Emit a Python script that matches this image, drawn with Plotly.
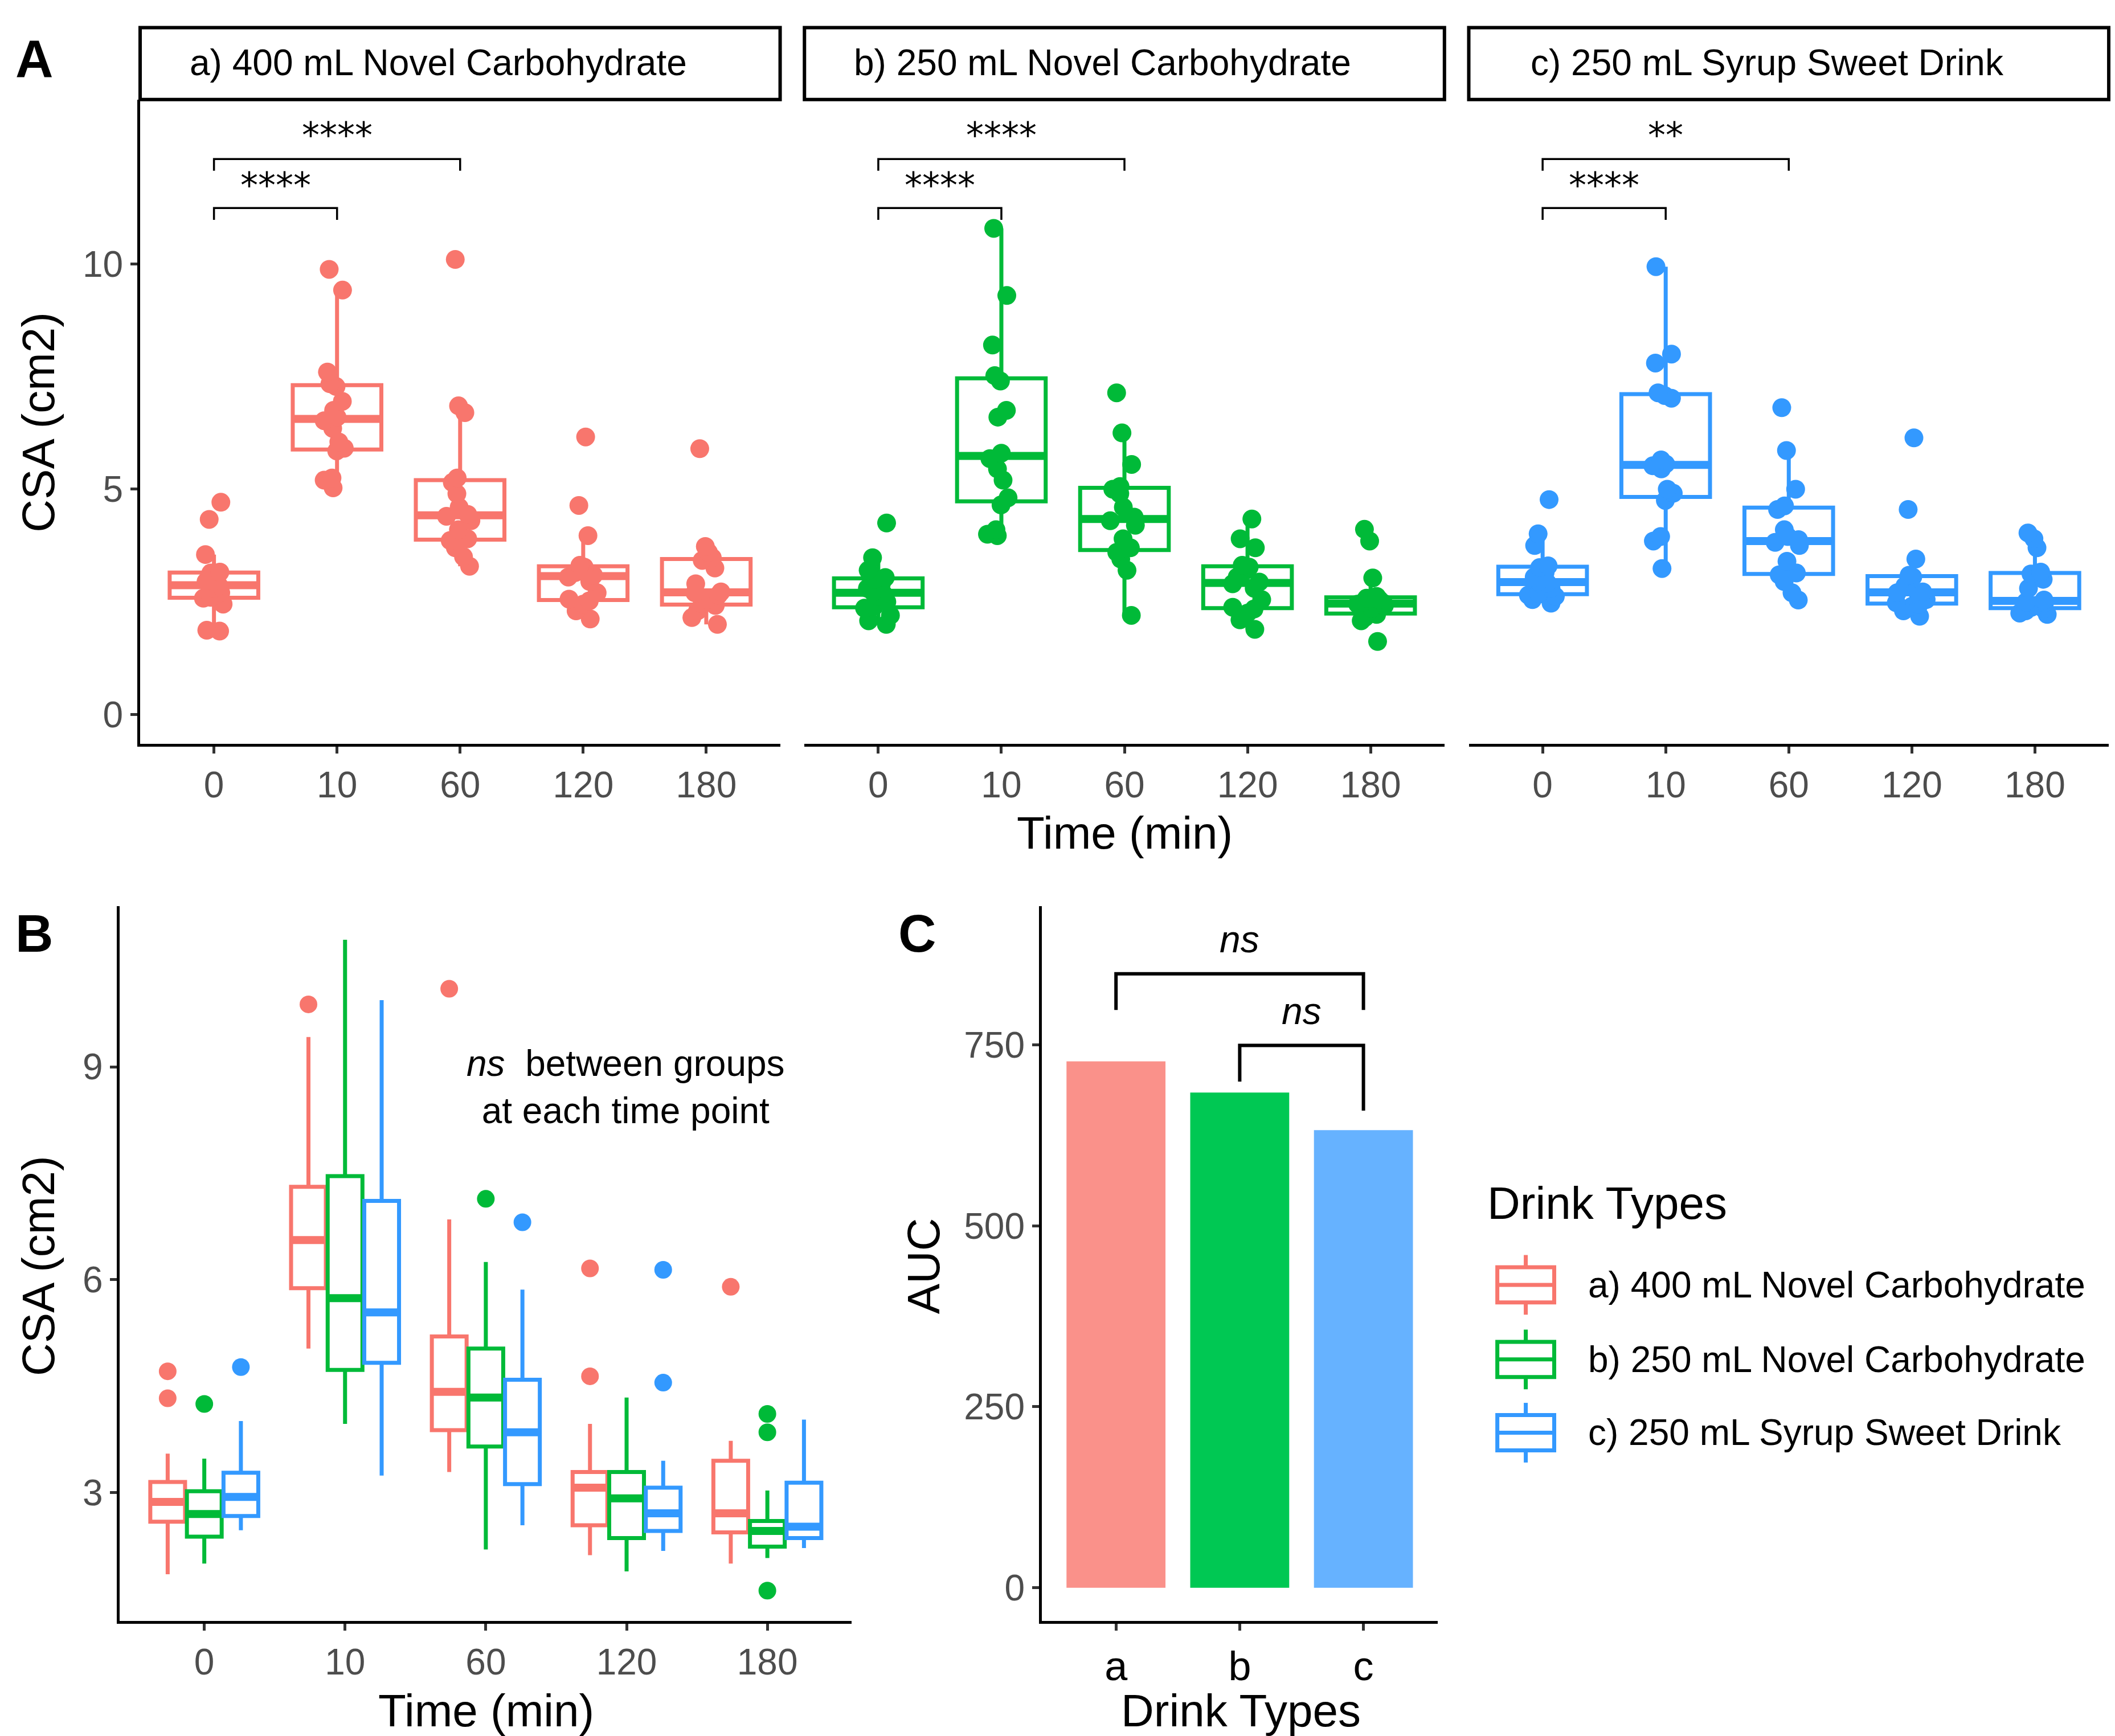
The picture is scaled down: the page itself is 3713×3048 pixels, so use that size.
import numpy as np
import plotly.graph_objects as go

times = ["0", "10", "60", "120", "180"]
drinks = ["a) 400 mL Novel Carbohydrate", "b) 250 mL Novel Carbohydrate",
          "c) 250 mL Syrup Sweet Drink"]
drink_codes = ["a", "b", "c"]
line_colors = ["#F8766D", "#00BA38", "#3399FF"]
bar_colors = ["#FA918A", "#00C853", "#66B2FF"]

# CSA (cm2) readings, drink a
a_t0 = [1.85, 1.87, 2.45, 2.58, 2.60, 2.70, 2.80, 2.86, 2.88, 2.95, 3.05, 3.14, 3.16, 3.55, 4.33, 4.71]
a_t10 = [5.03, 5.20, 5.25, 5.85, 5.91, 6.05, 6.35, 6.52, 6.60, 6.75, 6.95, 7.28, 7.34, 7.60, 9.42, 9.88]
a_t60 = [3.29, 3.50, 3.70, 3.86, 3.90, 4.10, 4.30, 4.40, 4.44, 4.60, 4.90, 5.15, 5.25, 6.70, 6.85, 10.1]
a_t120 = [2.12, 2.30, 2.45, 2.52, 2.56, 2.70, 2.95, 3.05, 3.09, 3.15, 3.22, 3.27, 3.31, 3.97, 4.64, 6.16]
a_t180 = [2.00, 2.15, 2.30, 2.42, 2.46, 2.55, 2.65, 2.70, 2.72, 2.90, 3.25, 3.42, 3.48, 3.60, 3.73, 5.90]

# drink b
b_t0 = [2.00, 2.08, 2.20, 2.36, 2.40, 2.50, 2.62, 2.68, 2.72, 2.80, 2.90, 3.00, 3.04, 3.20, 3.48, 4.25]
b_t10 = [3.97, 4.00, 4.10, 4.65, 4.81, 5.20, 5.45, 5.68, 5.80, 6.60, 6.75, 7.40, 7.52, 8.20, 9.30, 10.79]
b_t60 = [2.20, 3.20, 3.45, 3.60, 3.70, 3.90, 4.20, 4.30, 4.38, 4.60, 4.90, 5.00, 5.06, 5.55, 6.25, 7.14]
b_t120 = [1.89, 2.10, 2.25, 2.34, 2.38, 2.55, 2.80, 2.90, 2.94, 3.05, 3.20, 3.27, 3.31, 3.70, 3.90, 4.34]
b_t180 = [1.62, 2.08, 2.15, 2.22, 2.26, 2.35, 2.42, 2.45, 2.47, 2.50, 2.55, 2.58, 2.62, 3.03, 3.85, 4.11]

# drink c
c_t0 = [2.47, 2.55, 2.62, 2.65, 2.69, 2.80, 2.88, 2.92, 2.96, 3.05, 3.15, 3.26, 3.30, 3.75, 4.01, 4.77]
c_t10 = [3.24, 3.85, 3.95, 4.75, 4.91, 5.00, 5.45, 5.52, 5.56, 5.65, 7.02, 7.08, 7.14, 7.80, 8.00, 9.94]
c_t60 = [2.54, 2.70, 2.95, 3.10, 3.14, 3.40, 3.75, 3.82, 3.88, 3.95, 4.10, 4.55, 4.63, 5.00, 5.86, 6.81]
c_t120 = [2.18, 2.30, 2.40, 2.44, 2.48, 2.55, 2.65, 2.70, 2.72, 2.85, 3.00, 3.05, 3.09, 3.45, 4.55, 6.14]
c_t180 = [2.22, 2.25, 2.30, 2.34, 2.38, 2.42, 2.48, 2.50, 2.54, 2.80, 3.00, 3.12, 3.16, 3.70, 3.90, 4.03]

csa = [
    [a_t0, a_t10, a_t60, a_t120, a_t180],
    [b_t0, b_t10, b_t60, b_t120, b_t180],
    [c_t0, c_t10, c_t60, c_t120, c_t180],
]

auc = [727, 684, 632]

# significance brackets, panel A
stars_0_10 = ["****", "****", "****"]
stars_0_60 = ["****", "****", "**"]
bracket_0_10_y = [10.98, 11.24, 11.24, 10.98]
bracket_0_60_y = [12.07, 12.33, 12.33, 12.07]

# panel C brackets
bracket_ac_y = [798, 848, 848, 798]
bracket_bc_y = [699, 749, 749, 659]
ns_ac_y = 865
ns_bc_y = 766

FONT = "Arial, Liberation Sans, sans-serif"
TICK = dict(family=FONT, size=64, color="#4D4D4D")
BOX_W = 0.72            # box width in panel A (category units)
BOXGAP, GROUPGAP = 0.22, 0.05


def note(fig, text, x, y, size, angle=0, xanchor="center", bold=False):
    fig.add_annotation(x=x, y=y, xref="paper", yref="paper",
                       text="<b>%s</b>" % text if bold else text,
                       textangle=angle, showarrow=False,
                       xanchor=xanchor, yanchor="middle", align="center",
                       font=dict(family=FONT, size=size, color="black"))


def median_trace(groups, offset, half, color, xaxis, yaxis):
    # thick median bars like ggplot's fattened median line
    xs, ys = [], []
    for k, vals in enumerate(groups):
        m = float(np.median(vals))
        xs += [k + offset - half, k + offset + half, None]
        ys += [m, m, None]
    return go.Scatter(x=xs, y=ys, xaxis=xaxis, yaxis=yaxis, mode="lines",
                      line=dict(color=color, width=14), showlegend=False,
                      hoverinfo="skip")


fig = go.Figure()

A_dom = [[0.0641, 0.3667], [0.3782, 0.6808], [0.6923, 0.9949]]
A_ydom = [0.5742, 0.9453]

for i in range(3):
    xs, ys = [], []
    for t, vals in zip(times, csa[i]):
        xs += [t] * len(vals)
        ys += vals
    ax = "" if i == 0 else str(i + 1)
    fig.add_trace(go.Box(
        x=xs, y=ys, xaxis="x" + ax, yaxis="y" + ax,
        alignmentgroup="A%d" % i, offsetgroup="A",
        boxpoints="all", jitter=0.38, pointpos=0, width=BOX_W,
        whiskerwidth=0, fillcolor="rgba(0,0,0,0)",
        line=dict(color=line_colors[i], width=7),
        marker=dict(color=line_colors[i], size=33),
        showlegend=False))
    fig.add_trace(median_trace(csa[i], 0, BOX_W / 2 - 0.01, line_colors[i],
                               "x%d" % (6 + i), "y" + ax))
    # brackets
    fig.add_trace(go.Scatter(x=["0", "0", "10", "10"], y=bracket_0_10_y,
                             xaxis="x" + ax, yaxis="y" + ax, mode="lines",
                             line=dict(color="black", width=3.5),
                             showlegend=False, hoverinfo="skip"))
    fig.add_trace(go.Scatter(x=["0", "0", "60", "60"], y=bracket_0_60_y,
                             xaxis="x" + ax, yaxis="y" + ax, mode="lines",
                             line=dict(color="black", width=3.5),
                             showlegend=False, hoverinfo="skip"))
    fig.add_annotation(x=0.5, y=bracket_0_10_y[1] + 0.02, xref="x" + ax,
                       yref="y" + ax, text=stars_0_10[i], showarrow=False,
                       xanchor="center", yanchor="bottom",
                       font=dict(family="DejaVu Sans", size=62, color="black"))
    fig.add_annotation(x=1.0, y=bracket_0_60_y[1] + 0.04, xref="x" + ax,
                       yref="y" + ax, text=stars_0_60[i], showarrow=False,
                       xanchor="center", yanchor="bottom",
                       font=dict(family="DejaVu Sans", size=62, color="black"))
    # facet strip
    fig.add_shape(type="rect", xref="paper", yref="paper",
                  x0=A_dom[i][0], x1=A_dom[i][1], y0=0.9453, y1=0.9867,
                  line=dict(color="black", width=6), fillcolor="white")
    note(fig, drinks[i], (A_dom[i][0] + A_dom[i][1]) / 2 - 0.0103, 0.9665, 64)

# panel B, grouped boxes
slot = (1 - BOXGAP) / 3
for i in range(3):
    xs, ys = [], []
    for t, vals in zip(times, csa[i]):
        xs += [t] * len(vals)
        ys += vals
    fig.add_trace(go.Box(
        x=xs, y=ys, xaxis="x4", yaxis="y4", name=drinks[i],
        alignmentgroup="B", offsetgroup=drink_codes[i],
        boxpoints="outliers", pointpos=0, jitter=0,
        whiskerwidth=0, fillcolor="rgba(0,0,0,0)",
        line=dict(color=line_colors[i], width=7),
        marker=dict(color=line_colors[i], size=31),
        showlegend=False))
    fig.add_trace(median_trace(csa[i], (i - 1) * slot,
                               slot * (1 - GROUPGAP) / 2 - 0.005,
                               line_colors[i], "x9", "y4"))

# panel C bars
fig.add_trace(go.Bar(x=drink_codes, y=auc, xaxis="x5", yaxis="y5",
                     marker=dict(color=bar_colors, line=dict(width=0)),
                     width=0.8, showlegend=False))
fig.add_trace(go.Scatter(x=["a", "a", "c", "c"], y=bracket_ac_y,
                         xaxis="x5", yaxis="y5", mode="lines",
                         line=dict(color="black", width=6),
                         showlegend=False, hoverinfo="skip"))
fig.add_trace(go.Scatter(x=["b", "b", "c", "c"], y=bracket_bc_y,
                         xaxis="x5", yaxis="y5", mode="lines",
                         line=dict(color="black", width=6),
                         showlegend=False, hoverinfo="skip"))
fig.add_annotation(x=1.0, y=ns_ac_y, xref="x5", yref="y5", text="<i>ns</i>",
                   showarrow=False, xanchor="center", yanchor="bottom",
                   font=dict(family=FONT, size=66, color="black"))
fig.add_annotation(x=1.5, y=ns_bc_y, xref="x5", yref="y5", text="<i>ns</i>",
                   showarrow=False, xanchor="center", yanchor="bottom",
                   font=dict(family=FONT, size=66, color="black"))


def xax(dom, cats, rng, anchor):
    return dict(domain=dom, anchor=anchor, type="category",
                categoryorder="array", categoryarray=cats, range=rng,
                showline=True, linecolor="black", linewidth=5,
                ticks="outside", ticklen=12, tickwidth=5,
                tickcolor="#333333", tickfont=TICK,
                showgrid=False, zeroline=False)


def yax(dom, rng, tickvals, anchor, show=True):
    d = dict(domain=dom, range=rng, anchor=anchor, showgrid=False,
             zeroline=False)
    if show:
        d.update(showline=True, linecolor="black", linewidth=5,
                 ticks="outside", ticklen=12, tickwidth=5,
                 tickcolor="#333333", tickfont=TICK, tickvals=tickvals)
    else:
        d.update(showline=False, showticklabels=False, ticks="")
    return d


def overlay(base, anchor):
    # hidden linear twin of a category axis, same index scale
    return dict(overlaying=base, anchor=anchor, range=[-0.6, 4.6],
                visible=False, showgrid=False, zeroline=False)


A_yrange = [-0.65, 13.65]
fig.update_layout(
    width=3713, height=3048, margin=dict(l=0, r=0, t=0, b=0),
    paper_bgcolor="white", plot_bgcolor="white",
    boxmode="group", boxgap=BOXGAP, boxgroupgap=GROUPGAP,
    font=dict(family=FONT, color="black"), showlegend=False,
    xaxis=xax(A_dom[0], times, [-0.6, 4.6], "y"),
    yaxis=yax(A_ydom, A_yrange, [0, 5, 10], "x"),
    xaxis2=xax(A_dom[1], times, [-0.6, 4.6], "y2"),
    yaxis2=yax(A_ydom, A_yrange, None, "x2", show=False),
    xaxis3=xax(A_dom[2], times, [-0.6, 4.6], "y3"),
    yaxis3=yax(A_ydom, A_yrange, None, "x3", show=False),
    xaxis4=xax([0.0545, 0.4006], times, [-0.6, 4.6], "y4"),
    yaxis4=yax([0.0688, 0.4805], [1.19, 11.26], [3, 6, 9], "x4"),
    xaxis5=xax([0.4904, 0.6776], drink_codes, [-0.6, 2.6], "y5"),
    yaxis5=yax([0.0688, 0.4805], [-46, 941], [0, 250, 500, 750], "x5"),
    xaxis6=overlay("x", "y"),
    xaxis7=overlay("x2", "y2"),
    xaxis8=overlay("x3", "y3"),
    xaxis9=overlay("x4", "y4"),
)
fig.update_layout(xaxis5_tickfont=dict(family=FONT, size=72, color="black"))

# hand-drawn legend with box keys
note(fig, "Drink Types", 0.7006, 0.3094, 80, xanchor="left")
key_rows = [944, 999, 1053]
for i, yc in enumerate(key_rows):
    ymid = 1 - yc / 1280
    yt = 1 - (yc - 13) / 1280
    yb = 1 - (yc + 13) / 1280
    wt = 1 - (yc - 22) / 1280
    wb = 1 - (yc + 22) / 1280
    kx0, kx1 = 0.7058, 0.7327
    kc = (kx0 + kx1) / 2
    st = dict(color=line_colors[i], width=7)
    fig.add_shape(type="rect", xref="paper", yref="paper", x0=kx0, x1=kx1,
                  y0=yb, y1=yt, line=st)
    fig.add_shape(type="line", xref="paper", yref="paper", x0=kx0, x1=kx1,
                  y0=ymid, y1=ymid, line=st)
    fig.add_shape(type="line", xref="paper", yref="paper", x0=kc, x1=kc,
                  y0=yt, y1=wt, line=st)
    fig.add_shape(type="line", xref="paper", yref="paper", x0=kc, x1=kc,
                  y0=yb, y1=wb, line=st)
    note(fig, drinks[i], 0.7481, ymid, 64, xanchor="left")

# panel labels
note(fig, "A", 0.0141, 0.9688, 92, bold=True)
note(fig, "B", 0.0141, 0.4648, 92, bold=True)
note(fig, "C", 0.4314, 0.4648, 92, bold=True)

# axis titles
note(fig, "CSA (cm2)", 0.016, 0.7594, 80, angle=-90)
note(fig, "Time (min)", 0.5295, 0.5227, 80)
note(fig, "CSA (cm2)", 0.016, 0.2734, 80, angle=-90)
note(fig, "Time (min)", 0.2276, 0.0172, 80)
note(fig, "AUC", 0.4346, 0.2734, 80, angle=-90)
note(fig, "Drink Types", 0.5846, 0.0172, 80)

note(fig, "<i>ns</i>\u00a0 between groups<br>at each time point",
     0.2936, 0.3766, 64)

fig.write_html("out.html")
